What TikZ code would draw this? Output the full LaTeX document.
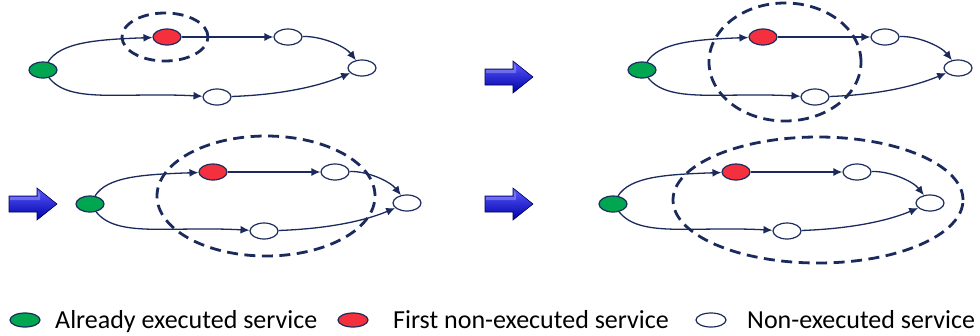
\documentclass[tikz,border=0pt]{standalone}
\usepackage{fontspec}
\setmainfont{Carlito}
\usetikzlibrary{shapes.geometric,arrows.meta}
\definecolor{navy}{HTML}{1B2A5C}
\definecolor{exgreen}{HTML}{00A650}
\definecolor{exred}{HTML}{F4303E}
\definecolor{arrtop}{HTML}{5A5AFF}
\definecolor{arrbot}{HTML}{0000A8}
\definecolor{arredge}{HTML}{00005E}
\tikzset{
  svc/.style={ellipse, draw=navy, line width=1.2pt, minimum width=28pt, minimum height=16pt, inner sep=0pt},
  done/.style={svc, fill=exgreen},
  first/.style={svc, fill=exred},
  todo/.style={svc, fill=white},
  legsvc/.style={ellipse, draw=navy, line width=1.2pt, minimum width=30pt, minimum height=14pt, inner sep=0pt},
  flow/.style={draw=navy, line width=1.3pt, -{Latex[length=9pt,width=8pt]}},
  upcurve/.style={out=58,in=182,out looseness=0.55,in looseness=1.35},
  downcurve/.style={out=-52,in=177,out looseness=0.55,in looseness=1.35},
  dropcurve/.style={out=2,in=128,looseness=0.8},
  risecurve/.style={out=2,in=203,out looseness=1.2,in looseness=0.6},
  scopering/.style={draw=navy, line width=2.8pt, dash pattern=on 11pt off 6.5pt},
  legtext/.style={anchor=base west, inner sep=0pt, font=\fontsize{26}{30}\selectfont, text=black}
}
\newcommand\bluearrow[2]{%
  \shade[top color=arrtop, bottom color=arrbot, draw=arredge, line width=0.6pt, line join=miter]
    (#1,#2-8) -- (#1+28,#2-8) -- (#1+28,#2-16) -- (#1+48,#2) -- (#1+28,#2+16) -- (#1+28,#2+8) -- (#1,#2+8) -- cycle;
  \fill[white, opacity=0.25] (#1+1,#2-7) -- (#1+29,#2-7) -- (#1+29,#2-13) -- (#1+31,#2-10) -- (#1+31,#2-4) -- (#1+1,#2-4) -- cycle;
}
\begin{document}
\begin{tikzpicture}[x=1pt,y=-1pt]
\fill[white] (0,0) rectangle (980,335);
\useasboundingbox (0,0) rectangle (980,335);

% ---------- panel 1 ----------
\node[done]  (g1) at (43,70) {};
\node[first] (r1) at (167,37) {};
\node[todo]  (t1) at (288,37) {};
\node[todo]  (w1) at (362,68) {};
\node[todo]  (b1) at (217,97) {};
\draw[flow] (g1) to[upcurve] (r1);
\draw[flow] (r1) -- (t1);
\draw[flow] (t1) to[dropcurve] (w1);
\draw[flow] (g1) to[downcurve] (b1);
\draw[flow] (b1) to[risecurve] (w1);
\node[scopering, ellipse, minimum width=86pt, minimum height=48pt] (c1) at (165,37) {};

% ---------- panel 2 ----------
\bluearrow{485}{77}
\node[done]  (g2) at (642,70) {};
\node[first] (r2) at (763,37) {};
\node[todo]  (t2) at (885,37) {};
\node[todo]  (w2) at (958,68) {};
\node[todo]  (b2) at (815,97) {};
\draw[flow] (g2) to[upcurve] (r2);
\draw[flow] (r2) -- (t2);
\draw[flow] (t2) to[dropcurve] (w2);
\draw[flow] (g2) to[downcurve] (b2);
\draw[flow] (b2) to[risecurve] (w2);
\node[scopering, ellipse, minimum width=152pt, minimum height=118pt] (c2) at (785,62) {};

% ---------- panel 3 ----------
\bluearrow{9}{204}
\node[done]  (g3) at (90,204) {};
\node[first] (r3) at (213,172) {};
\node[todo]  (t3) at (335,172) {};
\node[todo]  (w3) at (407,203) {};
\node[todo]  (b3) at (264,231) {};
\draw[flow] (g3) to[upcurve] (r3);
\draw[flow] (r3) -- (t3);
\draw[flow] (t3) to[dropcurve] (w3);
\draw[flow] (g3) to[downcurve] (b3);
\draw[flow] (b3) to[risecurve] (w3);
\node[scopering, ellipse, minimum width=218pt, minimum height=120pt] (c3) at (266,196) {};

% ---------- panel 4 ----------
\bluearrow{485}{204}
\node[done]  (g4) at (613,204) {};
\node[first] (r4) at (736,172) {};
\node[todo]  (t4) at (857,172) {};
\node[todo]  (w4) at (930,203) {};
\node[todo]  (b4) at (787,231) {};
\draw[flow] (g4) to[upcurve] (r4);
\draw[flow] (r4) -- (t4);
\draw[flow] (t4) to[dropcurve] (w4);
\draw[flow] (g4) to[downcurve] (b4);
\draw[flow] (b4) to[risecurve] (w4);
\node[scopering, ellipse, minimum width=290pt, minimum height=126pt] (c4) at (818,200) {};

% ---------- legend ----------
\node[legsvc, fill=exgreen] (lg) at (25,320) {};
\node[legtext] (lgt) at (55,328) {Already executed service};
\node[legsvc, fill=exred] (lr) at (353,320) {};
\node[legtext] (lrt) at (393,328) {First non-executed service};
\node[legsvc, fill=white] (lw) at (711,320) {};
\node[legtext] (lwt) at (747,328) {Non-executed service};
\end{tikzpicture}
\end{document}
